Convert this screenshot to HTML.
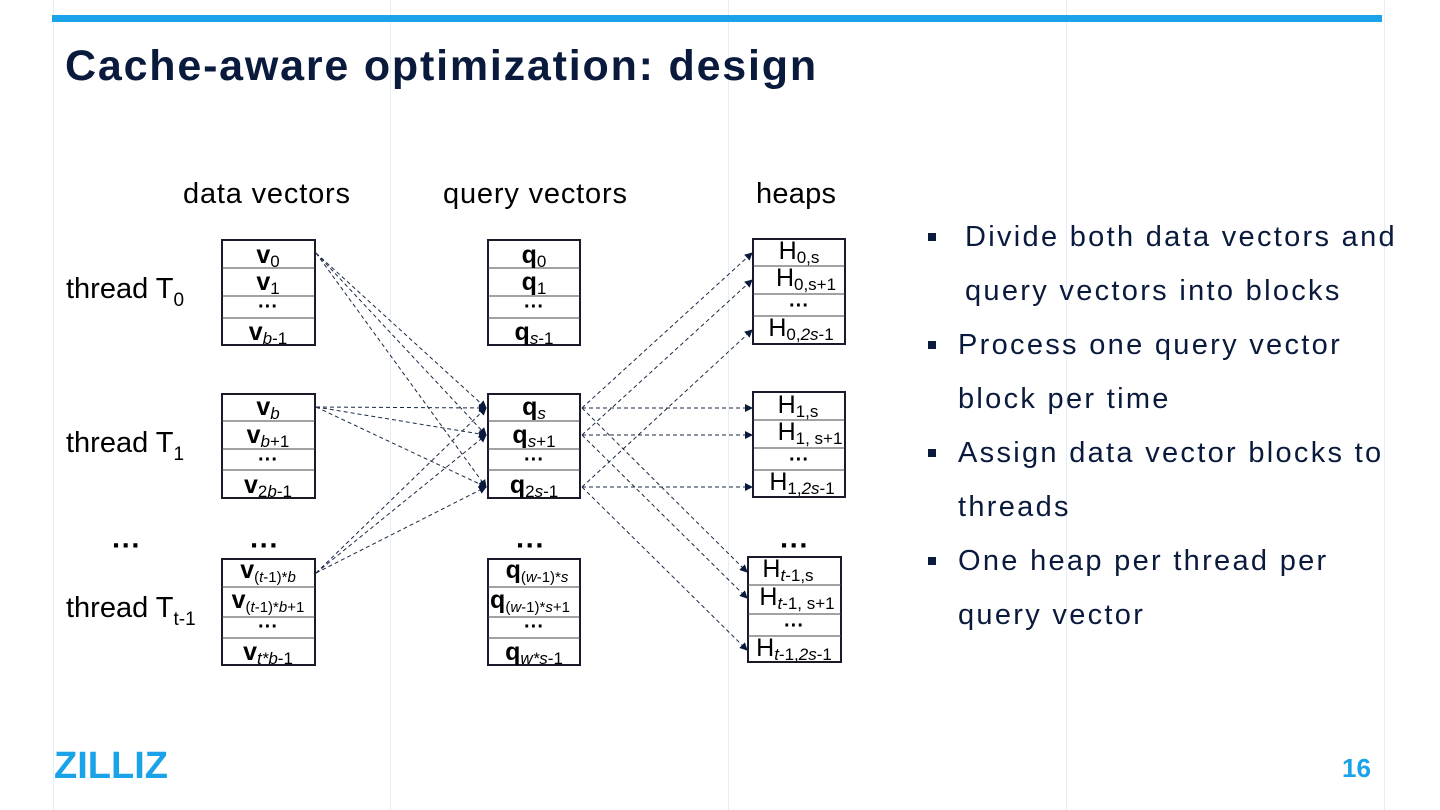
<!DOCTYPE html>
<html><head><meta charset="utf-8"><style>
body{margin:0;width:1440px;height:810px;background:#fff;position:relative;overflow:hidden;font-family:"Liberation Sans",sans-serif}
.vl{position:absolute;top:0;height:810px;width:1px;background:#e4eef6}
.title{position:absolute;left:65px;top:42px;font-size:43px;font-weight:bold;color:#0a1a3c;letter-spacing:1.8px}
.bul{position:absolute;left:928px;font-size:29px;color:#0a1a3c;line-height:54px;letter-spacing:2.3px;white-space:nowrap}
.sq{position:absolute;left:928px;width:8px;height:8px;background:#0a1a3c}
</style></head><body>
<div class="vl" style="left:53px"></div><div class="vl" style="left:390px"></div><div class="vl" style="left:728px"></div><div class="vl" style="left:1066px"></div><div class="vl" style="left:1384px"></div>
<div style="position:absolute;left:52px;top:15px;width:1330px;height:7px;background:#1aa3e8"></div>
<div class="title">Cache-aware optimization: design</div>
<svg width="1440" height="810" style="position:absolute;left:0;top:0" font-family="Liberation Sans, sans-serif">
<defs><marker id="a" markerWidth="8" markerHeight="8" refX="7" refY="4" orient="auto" markerUnits="userSpaceOnUse"><path d="M0,0 L8,4 L0,8z" fill="#0a1a3c"/></marker></defs>
<g font-size="29" fill="#000">
<text x="183" y="203" textLength="167">data vectors</text><text x="443" y="203" textLength="184">query vectors</text><text x="756" y="203" textLength="80">heaps</text>
<text x="66" y="298">thread T<tspan font-size="19" dy="8">0</tspan></text>
<text x="66" y="452">thread T<tspan font-size="19" dy="8">1</tspan></text>
<text x="66" y="617">thread T<tspan font-size="19" dy="8">t-1</tspan></text>
<text x="112" y="555" font-weight="bold">···</text>
<text x="250" y="555" font-weight="bold">···</text><text x="516" y="555" font-weight="bold">···</text><text x="780" y="555" font-weight="bold">···</text>
</g>
<g stroke="#1a1a2a" stroke-width="2" fill="none">
<rect x="222" y="240" width="93" height="105"/><rect x="222" y="394" width="93" height="104"/><rect x="222" y="559" width="93" height="106"/>
<rect x="488" y="240" width="92" height="105"/><rect x="488" y="394" width="92" height="104"/><rect x="488" y="559" width="92" height="106"/>
<rect x="753" y="239" width="92" height="105"/><rect x="753" y="392" width="92" height="105"/><rect x="748" y="557" width="93" height="105"/>
</g>
<g stroke="#444" stroke-width="1">
<path d="M222 268H315M222 296H315M222 318H315M222 421H315M222 449H315M222 470H315M222 587H315M222 617H315M222 638H315"/>
<path d="M488 268H580M488 296H580M488 318H580M488 421H580M488 449H580M488 470H580M488 587H580M488 617H580M488 638H580"/>
<path d="M753 266H845M753 294H845M753 316H845M753 420H845M753 448H845M753 470H845M748 585H841M748 614H841M748 636H841"/>
</g>
<g font-size="25" text-anchor="middle" fill="#000">
<text x="268" y="263" font-weight="bold">v<tspan font-size="17" font-weight="normal" dy="4">0</tspan></text>
<text x="268" y="290" font-weight="bold">v<tspan font-size="17" font-weight="normal" dy="4">1</tspan></text>
<text x="268" y="313" font-weight="bold" font-size="20">···</text>
<text x="268" y="340" font-weight="bold">v<tspan font-size="17" font-weight="normal" dy="4"><tspan font-style="italic">b</tspan>-1</tspan></text>
<text x="268" y="415" font-weight="bold">v<tspan font-size="17" font-weight="normal" font-style="italic" dy="4">b</tspan></text>
<text x="268" y="443" font-weight="bold">v<tspan font-size="17" font-weight="normal" dy="4"><tspan font-style="italic">b</tspan>+1</tspan></text>
<text x="268" y="466" font-weight="bold" font-size="20">···</text>
<text x="268" y="493" font-weight="bold">v<tspan font-size="17" font-weight="normal" dy="4">2<tspan font-style="italic">b</tspan>-1</tspan></text>
<text x="268" y="578" font-weight="bold">v<tspan font-size="15" font-weight="normal" dy="4">(<tspan font-style="italic">t</tspan>-1)*<tspan font-style="italic">b</tspan></tspan></text>
<text x="268" y="608" font-weight="bold">v<tspan font-size="15" font-weight="normal" dy="4">(<tspan font-style="italic">t</tspan>-1)*<tspan font-style="italic">b</tspan>+1</tspan></text>
<text x="268" y="633" font-weight="bold" font-size="20">···</text>
<text x="268" y="660" font-weight="bold">v<tspan font-size="17" font-weight="normal" font-style="italic" dy="4">t*b<tspan font-style="normal">-1</tspan></tspan></text>

<text x="534" y="263" font-weight="bold">q<tspan font-size="17" font-weight="normal" dy="4">0</tspan></text>
<text x="534" y="290" font-weight="bold">q<tspan font-size="17" font-weight="normal" dy="4">1</tspan></text>
<text x="534" y="313" font-weight="bold" font-size="20">···</text>
<text x="534" y="340" font-weight="bold">q<tspan font-size="17" font-weight="normal" dy="4"><tspan font-style="italic">s</tspan>-1</tspan></text>
<text x="534" y="415" font-weight="bold">q<tspan font-size="17" font-weight="normal" font-style="italic" dy="4">s</tspan></text>
<text x="534" y="443" font-weight="bold">q<tspan font-size="17" font-weight="normal" dy="4"><tspan font-style="italic">s</tspan>+1</tspan></text>
<text x="534" y="466" font-weight="bold" font-size="20">···</text>
<text x="534" y="493" font-weight="bold">q<tspan font-size="17" font-weight="normal" dy="4">2<tspan font-style="italic">s</tspan>-1</tspan></text>
<text x="537" y="578" font-weight="bold">q<tspan font-size="15" font-weight="normal" dy="4">(<tspan font-style="italic">w</tspan>-1)*<tspan font-style="italic">s</tspan></tspan></text>
<text x="530" y="608" font-weight="bold">q<tspan font-size="15" font-weight="normal" dy="4">(<tspan font-style="italic">w</tspan>-1)*<tspan font-style="italic">s</tspan>+1</tspan></text>
<text x="534" y="633" font-weight="bold" font-size="20">···</text>
<text x="534" y="660" font-weight="bold">q<tspan font-size="17" font-weight="normal" font-style="italic" dy="4">w*s<tspan font-style="normal">-1</tspan></tspan></text>

<text x="799" y="259">H<tspan font-size="17" dy="4">0,s</tspan></text>
<text x="806" y="286">H<tspan font-size="17" dy="4">0,s+1</tspan></text>
<text x="799" y="312" font-weight="bold" font-size="20">···</text>
<text x="801" y="336">H<tspan font-size="17" dy="4">0,<tspan font-style="italic">2s</tspan>-1</tspan></text>
<text x="798" y="413">H<tspan font-size="17" dy="4">1,s</tspan></text>
<text x="810" y="440">H<tspan font-size="17" dy="4">1, s+1</tspan></text>
<text x="799" y="466" font-weight="bold" font-size="20">···</text>
<text x="802" y="490">H<tspan font-size="17" dy="4">1,<tspan font-style="italic">2s</tspan>-1</tspan></text>
<text x="788" y="577">H<tspan font-size="17" dy="4"><tspan font-style="italic">t</tspan>-1,s</tspan></text>
<text x="797" y="605">H<tspan font-size="17" dy="4"><tspan font-style="italic">t</tspan>-1, s+1</tspan></text>
<text x="794" y="632" font-weight="bold" font-size="20">···</text>
<text x="794" y="656">H<tspan font-size="17" dy="4"><tspan font-style="italic">t</tspan>-1,<tspan font-style="italic">2s</tspan>-1</tspan></text>
</g>
<g stroke="#1a2a44" stroke-width="1" stroke-dasharray="4,3" fill="none" marker-end="url(#a)">
<path d="M316 253L486 408"/><path d="M316 253L486 435"/><path d="M316 253L486 487"/>
<path d="M316 407L486 408"/><path d="M316 407L486 435"/><path d="M316 407L486 487"/>
<path d="M316 573L486 408"/><path d="M316 573L486 435"/><path d="M316 573L486 487"/>
<path d="M582 408L752 253"/><path d="M582 408L752 408"/><path d="M582 408L747 572"/>
<path d="M582 435L752 280"/><path d="M582 435L752 435"/><path d="M582 435L747 598"/>
<path d="M582 487L752 330"/><path d="M582 487L752 487"/><path d="M582 487L747 650"/>
</g>
</svg>
<div class="sq" style="top:233px"></div><div class="bul" style="left:965px;top:210px">Divide both data vectors and<br>query vectors into blocks</div>
<div class="sq" style="top:341px"></div><div class="bul" style="left:958px;top:318px">Process one query vector<br>block per time</div>
<div class="sq" style="top:449px"></div><div class="bul" style="left:958px;top:426px">Assign data vector blocks to<br>threads</div>
<div class="sq" style="top:557px"></div><div class="bul" style="left:958px;top:534px">One heap per thread per<br>query vector</div>
<div style="position:absolute;left:54px;top:746px;font-size:38px;font-weight:bold;color:#1aa3e8;letter-spacing:0px;line-height:40px">ZILLIZ</div>
<div style="position:absolute;left:1342px;top:753px;font-size:26px;font-weight:bold;color:#1aa3e8">16</div>
</body></html>
